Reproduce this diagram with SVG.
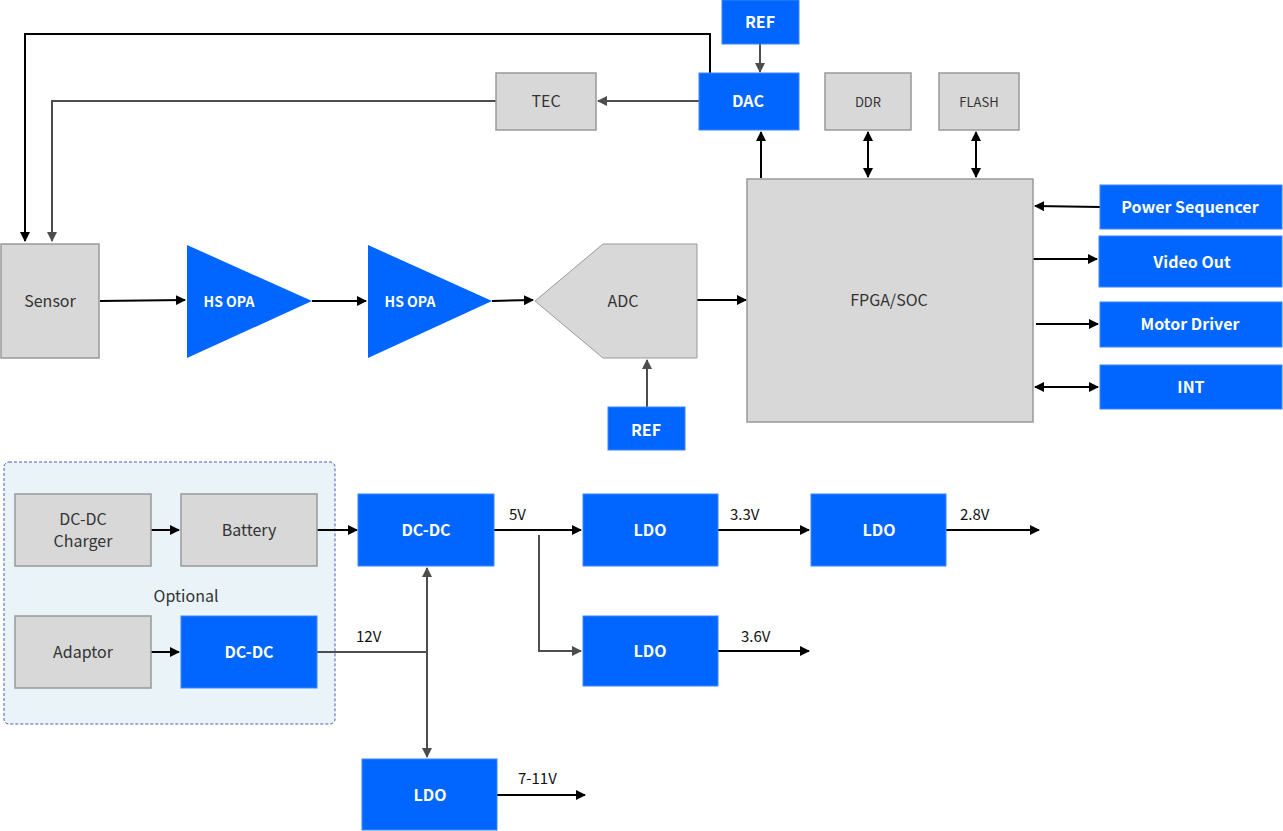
<svg xmlns="http://www.w3.org/2000/svg" width="1283" height="831" viewBox="0 0 1283 831">
<style>
.g{fill:#d8d8d8;stroke:#999;stroke-width:1.5}
.b{fill:#0066ff;stroke:#3b87ff;stroke-width:1}
.tg{font-family:"Noto Sans CJK SC","Noto Sans","Liberation Sans",sans-serif;font-size:16px;fill:#333;text-anchor:middle;dominant-baseline:central}
.ts{font-family:"Noto Sans CJK SC","Noto Sans","Liberation Sans",sans-serif;font-size:13px;fill:#333;text-anchor:middle;dominant-baseline:central}
.tb{font-family:"Noto Sans CJK SC","Noto Sans","Liberation Sans",sans-serif;font-size:16px;font-weight:bold;fill:#fff;text-anchor:middle;dominant-baseline:central}
.tl{font-family:"Noto Sans CJK SC","Noto Sans","Liberation Sans",sans-serif;font-size:15px;fill:#111;dominant-baseline:central}
.k{stroke:#000;stroke-width:2;fill:none}
.d{stroke:#4d4d4d;stroke-width:2;fill:none}
</style>
<defs>
<marker id="ak" viewBox="0 0 10 10" refX="9" refY="5" markerWidth="5" markerHeight="5" orient="auto-start-reverse" markerUnits="strokeWidth"><path d="M0,0 L10,5 L0,10 z" fill="#000"/></marker>
<marker id="ad" viewBox="0 0 10 10" refX="9" refY="5" markerWidth="5" markerHeight="5" orient="auto-start-reverse" markerUnits="strokeWidth"><path d="M0,0 L10,5 L0,10 z" fill="#4d4d4d"/></marker>
</defs>

<g id="optional-group">
<rect x="4" y="462" width="331" height="262" rx="5" fill="#eaf3f7" stroke="#4a5bb5" stroke-width="1" stroke-dasharray="3,2"/>
<text class="tg" x="186" y="595">Optional</text>
</g>

<g id="connectors">
<polyline class="k" points="710,73 710,34 25,34 25,241" marker-end="url(#ak)"/>
<polyline class="d" points="496,101 52,101 52,241" marker-end="url(#ad)"/>
<line class="d" x1="760" y1="44" x2="760" y2="72" marker-end="url(#ad)"/>
<line class="d" x1="699" y1="101" x2="598" y2="101" marker-end="url(#ad)"/>
<line class="k" x1="761" y1="178" x2="761" y2="132" marker-end="url(#ak)"/>
<line class="k" x1="868" y1="132" x2="868" y2="177" marker-start="url(#ak)" marker-end="url(#ak)"/>
<line class="k" x1="976" y1="132" x2="976" y2="177" marker-start="url(#ak)" marker-end="url(#ak)"/>
<line class="k" x1="100" y1="301" x2="185" y2="300" marker-end="url(#ak)"/>
<line class="k" x1="312" y1="301" x2="366" y2="301" marker-end="url(#ak)"/>
<line class="k" x1="492" y1="301" x2="533" y2="300" marker-end="url(#ak)"/>
<line class="k" x1="697" y1="300" x2="746" y2="300" marker-end="url(#ak)"/>
<line class="d" x1="647" y1="407" x2="647" y2="360" marker-end="url(#ad)"/>
<line class="k" x1="1100" y1="207" x2="1035" y2="206" marker-end="url(#ak)"/>
<line class="k" x1="1033" y1="259" x2="1097" y2="259" marker-end="url(#ak)"/>
<line class="k" x1="1036" y1="324" x2="1098" y2="324" marker-end="url(#ak)"/>
<line class="k" x1="1035" y1="387" x2="1098" y2="387" marker-start="url(#ak)" marker-end="url(#ak)"/>
<line class="k" x1="151" y1="530" x2="179" y2="530" marker-end="url(#ak)"/>
<line class="k" x1="317" y1="530" x2="357" y2="530" marker-end="url(#ak)"/>
<line class="k" x1="151" y1="652" x2="179" y2="652" marker-end="url(#ak)"/>
<line class="k" x1="494" y1="530" x2="581" y2="530" marker-end="url(#ak)"/>
<polyline class="d" points="539,535 539,651 581,651" marker-end="url(#ad)"/>
<line class="k" x1="718" y1="530" x2="809" y2="530" marker-end="url(#ak)"/>
<line class="k" x1="946" y1="530" x2="1039" y2="530" marker-end="url(#ak)"/>
<line class="k" x1="718" y1="651" x2="809" y2="651" marker-end="url(#ak)"/>
<line class="k" x1="497" y1="795" x2="585" y2="795" marker-end="url(#ak)"/>
<line class="d" x1="317" y1="652" x2="427" y2="652"/>
<line class="d" x1="427" y1="568" x2="427" y2="757" marker-start="url(#ad)" marker-end="url(#ad)"/>
<text class="tl" x="509" y="513">5V</text>
<text class="tl" x="730" y="513">3.3V</text>
<text class="tl" x="960" y="513">2.8V</text>
<text class="tl" x="741" y="635">3.6V</text>
<text class="tl" x="356" y="635">12V</text>
<text class="tl" x="518" y="777">7-11V</text>
</g>

<g id="ref-dac"><rect class="b" x="722" y="0" width="77" height="44"/><text class="tb" x="760" y="21">REF</text></g>
<g id="dac"><rect class="b" x="699" y="73" width="100" height="57"/><text class="tb" x="748" y="100">DAC</text></g>
<g id="tec"><rect class="g" x="496" y="73" width="100" height="57"/><text class="tg" x="546" y="100">TEC</text></g>
<g id="ddr"><rect class="g" x="825" y="73" width="86" height="57"/><text class="ts" x="868" y="101">DDR</text></g>
<g id="flash"><rect class="g" x="939" y="73" width="80" height="57"/><text class="ts" x="979" y="101">FLASH</text></g>
<g id="sensor"><rect class="g" x="1" y="244" width="98" height="114"/><text class="tg" x="50" y="300">Sensor</text></g>
<g id="opa1"><polygon points="187,245 187,358 312,301" fill="#0066ff"/><text class="tb" x="229" y="301" style="font-size:14px">HS OPA</text></g>
<g id="opa2"><polygon points="368,245 368,358 492,301" fill="#0066ff"/><text class="tb" x="410" y="301" style="font-size:14px">HS OPA</text></g>
<g id="adc"><polygon points="535,301 603,244 697,244 697,358 603,358" fill="#d8d8d8" stroke="#999" stroke-width="1"/><text class="tg" x="623" y="300">ADC</text></g>
<g id="ref-adc"><rect class="b" x="608" y="407" width="77" height="43"/><text class="tb" x="646" y="429">REF</text></g>
<g id="fpga"><rect class="g" x="747" y="179" width="286" height="243"/><text class="tg" x="889" y="299">FPGA/SOC</text></g>
<g id="power-seq"><rect class="b" x="1100" y="185" width="182" height="44"/><text class="tb" x="1190" y="206">Power Sequencer</text></g>
<g id="video-out"><rect class="b" x="1099" y="236" width="183" height="51"/><text class="tb" x="1192" y="261">Video Out</text></g>
<g id="motor-driver"><rect class="b" x="1100" y="302" width="182" height="45"/><text class="tb" x="1190" y="323">Motor Driver</text></g>
<g id="int"><rect class="b" x="1100" y="365" width="182" height="44"/><text class="tb" x="1191" y="386">INT</text></g>

<g id="charger"><rect class="g" x="15" y="494" width="136" height="72"/><text class="tg" x="83" y="518">DC-DC</text><text class="tg" x="83" y="540">Charger</text></g>
<g id="battery"><rect class="g" x="181" y="494" width="136" height="72"/><text class="tg" x="249" y="529">Battery</text></g>
<g id="adaptor"><rect class="g" x="15" y="616" width="136" height="72"/><text class="tg" x="83" y="651">Adaptor</text></g>
<g id="dcdc-opt"><rect class="b" x="181" y="616" width="136" height="72"/><text class="tb" x="249" y="651">DC-DC</text></g>
<g id="dcdc-main"><rect class="b" x="358" y="494" width="136" height="72"/><text class="tb" x="426" y="529">DC-DC</text></g>
<g id="ldo-33"><rect class="b" x="583" y="494" width="135" height="72"/><text class="tb" x="650" y="529">LDO</text></g>
<g id="ldo-28"><rect class="b" x="811" y="494" width="135" height="72"/><text class="tb" x="879" y="529">LDO</text></g>
<g id="ldo-36"><rect class="b" x="583" y="616" width="135" height="70"/><text class="tb" x="650" y="650">LDO</text></g>
<g id="ldo-711"><rect class="b" x="362" y="759" width="135" height="71"/><text class="tb" x="430" y="794">LDO</text></g>
</svg>
